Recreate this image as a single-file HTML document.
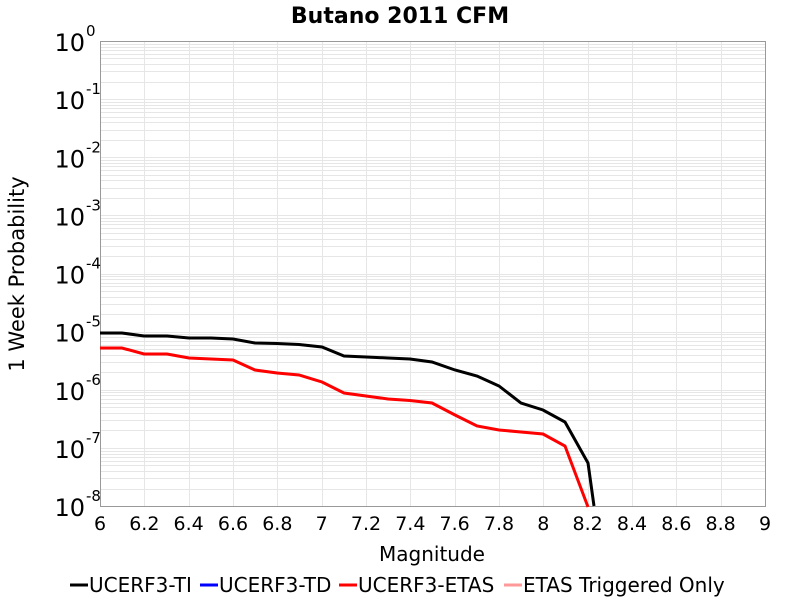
<!DOCTYPE html>
<html><head><style>body{margin:0;background:#fff}svg text{font-family:"DejaVu Sans","Liberation Sans",sans-serif}</style></head><body>
<svg width="800" height="600" xmlns="http://www.w3.org/2000/svg">
<rect width="800" height="600" fill="#fff"/>
<g id="grid" stroke="#e6e6e6" stroke-width="1"></g>
<rect x="100.5" y="41.5" width="665" height="465" fill="none" stroke="#999"/>
<text x="400" y="23" text-anchor="middle" font-size="22" font-weight="bold">Butano 2011 CFM</text>
<g id="yl" font-size="24" text-anchor="end"></g>
<g id="xl" font-size="19" text-anchor="middle"></g>
<text x="432" y="561" text-anchor="middle" font-size="20">Magnitude</text>
<text transform="translate(24,274) rotate(-90)" text-anchor="middle" font-size="21">1 Week Probability</text>
<polyline fill="none" stroke="#000" stroke-width="3" points="100,333 122,333 144,336 167,336 189,338 211,338 233,339 255,343 277,343.5 299,344.5 322,347 344,356 366,357 388,358 410,359 432,362 455,370 477,376 499,386 521,403 543,410 565,422 588,463 594,506"/>
<polyline fill="none" stroke="#f00" stroke-width="3" points="100,348 122,348 144,354 167,354 189,358 211,359 233,360 255,370 277,373 299,375 322,382 344,393 366,396 388,399 410,400.5 432,403 455,415 477,426 499,430 521,432 543,434 565,446 588,507"/>
<g font-size="20">
<line x1="70" y1="585" x2="88" y2="585" stroke="#000" stroke-width="3"/><text x="89" y="592">UCERF3-TI</text>
<line x1="200" y1="585" x2="218" y2="585" stroke="#00f" stroke-width="3"/><text x="219" y="592">UCERF3-TD</text>
<line x1="339" y1="585" x2="357" y2="585" stroke="#f00" stroke-width="3"/><text x="358" y="592">UCERF3-ETAS</text>
<line x1="504" y1="585" x2="522" y2="585" stroke="#f99" stroke-width="3"/><text x="523" y="592">ETAS Triggered Only</text>
</g>
</svg>
<script>
var g=document.getElementById('grid'),yl=document.getElementById('yl'),xl=document.getElementById('xl'),ns='http://www.w3.org/2000/svg';
function ln(x1,y1,x2,y2){var l=document.createElementNS(ns,'line');l.setAttribute('x1',x1);l.setAttribute('y1',y1);l.setAttribute('x2',x2);l.setAttribute('y2',y2);g.appendChild(l);}
var D=465/8;
for(var d=0;d<8;d++){for(var k=1;k<10;k++){var y=506-(d*D+Math.log10(k)*D);ln(100,Math.round(y)+.5,765,Math.round(y)+.5);}}
for(var i=0;i<=15;i++){var x=100+i*665/15;ln(Math.round(x)+.5,41,Math.round(x)+.5,506);
var t=document.createElementNS(ns,'text');t.setAttribute('x',x);t.setAttribute('y',530);t.textContent=(6+i*0.2).toFixed(1).replace('.0','');xl.appendChild(t);}
for(var d=0;d<=8;d++){var y=41+d*D;var t=document.createElementNS(ns,'text');t.setAttribute('x',85);t.setAttribute('y',y+10);t.textContent='10';yl.appendChild(t);
var s=document.createElementNS(ns,'text');s.setAttribute('x',86);s.setAttribute('y',y-5);s.setAttribute('font-size','15');s.setAttribute('text-anchor','start');s.textContent=d==0?'0':'-'+d;yl.appendChild(s);}
</script>
</body></html>
